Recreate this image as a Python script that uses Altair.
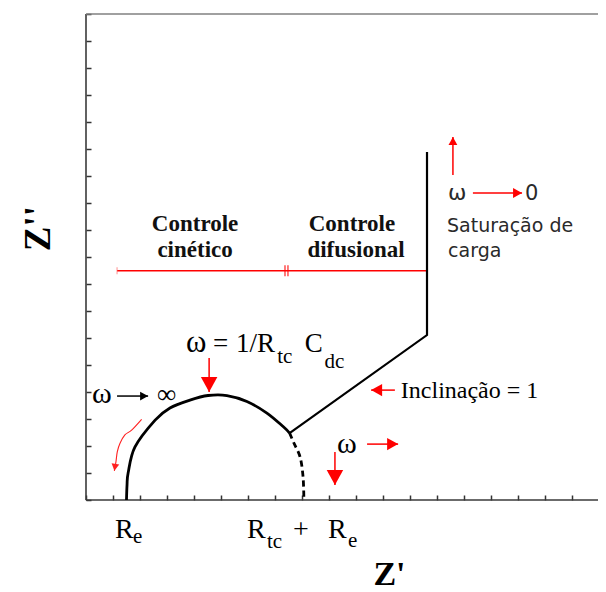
import math
import altair as alt
import pandas as pd

# ---------------- data (1 unit = one tick interval on either axis) ----------------
x_max = 18.963
y_max = 18.0
x_tick_values = list(range(0, 19))
y_tick_values = list(range(0, 19))

# kinetic-control semicircle (solid part)
arc_x = [1.50, 1.52, 1.56, 1.81, 2.56, 3.11, 3.85, 4.52, 5.22, 5.96, 6.70, 7.30, 7.54]
arc_y = [0.00, 0.56, 1.00, 1.96, 2.96, 3.41, 3.70, 3.87, 3.87, 3.65, 3.22, 2.72, 2.48]
# dashed continuation of the semicircle down to Rtc + Re
dash_x = [7.54, 7.70, 7.93, 8.04, 8.07]
dash_y = [2.48, 2.11, 1.59, 0.85, 0.00]
# diffusion (Warburg) branch: slope line then vertical capacitive line
warb_x = [7.54, 12.63, 12.63]
warb_y = [2.48, 6.11, 12.89]

# red region bar
bar_x = [1.15, 12.63]
bar_y = [8.49, 8.49]
bar_break_x = [7.37, 7.48]

# straight arrows (tail -> tip)
arrow_x1 = [4.56, 14.33, 13.59, 11.44, 10.41, 9.22, 1.15]
arrow_y1 = [5.26, 11.37, 12.04, 4.07, 2.07, 1.78, 3.85]
arrow_x2 = [4.56, 16.15, 13.59, 10.56, 11.56, 9.22, 2.30]
arrow_y2 = [4.00, 11.37, 13.44, 4.07, 2.07, 0.56, 3.85]
arrow_color = ["#ff0000"] * 6 + ["#000000"]
arrow_head_r = [15, 9, 8, 11, 11, 15, 8]

# curved red arrow beside the semicircle
curve_x = [2.06, 1.69, 1.44, 1.26, 1.16, 1.11, 1.05]
curve_y = [2.99, 2.59, 2.41, 2.10, 1.79, 1.42, 1.08]

# serif annotations (left aligned, baseline)
serif_text = ["ω", "=", "1/R", "tc", "C", "dc",
              "ω", "∞",
              "Inclinação = 1",
              "ω",
              "R", "e", "R", "tc", "+", "R", "e"]
serif_x = [3.70, 4.70, 5.56, 7.08, 8.10, 8.83,
           0.22, 2.63,
           11.66,
           9.30,
           1.07, 1.74, 5.96, 6.70, 7.67, 8.96, 9.70]
serif_y = [5.48, 5.48, 5.48, 5.07, 5.48, 4.89,
           3.59, 3.59,
           3.78,
           1.74,
           -1.41, -1.59, -1.41, -1.78, -1.41, -1.41, -1.74]
serif_size = [31, 27, 27, 21, 27, 21,
              30, 27,
              24,
              30,
              28, 21, 28, 21, 28, 28, 21]

# bold region labels (centered)
bold_text = ["Controle", "cinético", "Controle", "difusional"]
bold_x = [4.04, 4.04, 9.85, 10.00]
bold_y = [9.96, 9.00, 9.96, 9.00]

# sans annotations (left aligned)
sans_text = ["ω", "0", "Saturação de", "carga"]
sans_x = [13.41, 16.26, 13.37, 13.41]
sans_y = [11.11, 11.11, 9.94, 9.01]
sans_size = [22, 21, 19, 19]

# ---------------- tables ----------------
arc_df = pd.DataFrame({"x": arc_x, "y": arc_y, "o": range(len(arc_x))})
dash_df = pd.DataFrame({"x": dash_x, "y": dash_y, "o": range(len(dash_x))})
warb_df = pd.DataFrame({"x": warb_x, "y": warb_y, "o": range(len(warb_x))})
frame_df = pd.DataFrame({
    "x": [0, 0, 0], "x2": [0, x_max, x_max],
    "y": [0, 0, y_max], "y2": [y_max, 0, y_max],
    "c": ["#3a3a3a", "#3a3a3a", "#808080"],
})
bar_df = pd.DataFrame({"x": [bar_x[0]], "x2": [bar_x[1]], "y": [bar_y[0]]})
bar_end_df = pd.DataFrame({"x": bar_x, "y": bar_y})
bar_brk_df = pd.DataFrame({"x": bar_break_x, "y": [bar_y[0]] * 2})


def head_angle(x1, y1, x2, y2):
    dx = x2 - x1
    dys = -(y2 - y1)
    return (-math.degrees(math.atan2(dx, dys))) % 360


arrow_df = pd.DataFrame({
    "x": arrow_x1, "y": arrow_y1, "x2": arrow_x2, "y2": arrow_y2,
    "c": arrow_color,
    "s": [4 * r * r for r in arrow_head_r],
    "a": [head_angle(a, b, c, d) for a, b, c, d in zip(arrow_x1, arrow_y1, arrow_x2, arrow_y2)],
})
curve_df = pd.DataFrame({"x": curve_x, "y": curve_y, "o": range(len(curve_x))})
curve_head_df = pd.DataFrame({
    "x": [curve_x[-1]], "y": [curve_y[-1]], "s": [4 * 7 * 7],
    "a": [head_angle(curve_x[-3], curve_y[-3], curve_x[-1], curve_y[-1])],
})
serif_df = pd.DataFrame({"t": serif_text, "x": serif_x, "y": serif_y, "s": serif_size})
bold_df = pd.DataFrame({"t": bold_text, "x": bold_x, "y": bold_y})
sans_df = pd.DataFrame({"t": sans_text, "x": sans_x, "y": sans_y, "s": sans_size})

# ---------------- scales / axes ----------------
xs = alt.Scale(domain=[0, x_max], nice=False, zero=False)
ys = alt.Scale(domain=[0, y_max], nice=False, zero=False)
x_axis = alt.Axis(values=x_tick_values, labels=False, domain=False, grid=False,
                  ticks=True, tickSize=5, offset=-5, tickColor="#333333", tickWidth=1.5,
                  title="Z'", titleFont="Liberation Serif", titleFontSize=34,
                  titleFontWeight="bold", titleColor="#000000",
                  titleX=303, titleY=89, titleAlign="center", titleBaseline="alphabetic")
y_axis = alt.Axis(values=y_tick_values, labels=False, domain=False, grid=False,
                  ticks=True, tickSize=5, offset=-5, tickColor="#333333", tickWidth=1.5,
                  title="Z''", titleFont="Liberation Serif", titleFontSize=37,
                  titleFontWeight="bold", titleColor="#000000", titleAngle=270,
                  titleX=-42, titleY=214, titleAlign="center", titleBaseline="alphabetic")


def X(f):
    return alt.X(f"{f}:Q", scale=xs, axis=x_axis)


def Y(f):
    return alt.Y(f"{f}:Q", scale=ys, axis=y_axis)


ARROW_SHAPE = "M0,0L-0.55,-1L0.55,-1Z"

frame = alt.Chart(frame_df).mark_rule(strokeWidth=1.6).encode(
    x=X("x"), x2="x2:Q", y=Y("y"), y2="y2:Q", color=alt.Color("c:N", scale=None))

arc = alt.Chart(arc_df).mark_line(color="black", strokeWidth=2.8, interpolate="cardinal").encode(
    x=X("x"), y=Y("y"), order="o:Q")
dash = alt.Chart(dash_df).mark_line(color="black", strokeWidth=2.8, strokeDash=[6, 4],
                                    interpolate="cardinal").encode(
    x=X("x"), y=Y("y"), order="o:Q")
warb = alt.Chart(warb_df).mark_line(color="black", strokeWidth=2.2).encode(
    x=X("x"), y=Y("y"), order="o:Q")

bar = alt.Chart(bar_df).mark_rule(color="#ff0000", strokeWidth=1.5).encode(
    x=X("x"), x2="x2:Q", y=Y("y"))
bar_end = alt.Chart(bar_end_df).mark_tick(color="#ff6060", orient="vertical", size=7,
                                          thickness=1).encode(x=X("x"), y=Y("y"))
bar_brk = alt.Chart(bar_brk_df).mark_tick(color="#ff0000", orient="vertical", size=11,
                                          thickness=1.5).encode(x=X("x"), y=Y("y"))

arrow_line = alt.Chart(arrow_df).mark_rule(strokeWidth=1.5).encode(
    x=X("x"), x2="x2:Q", y=Y("y"), y2="y2:Q", color=alt.Color("c:N", scale=None))
arrow_head = alt.Chart(arrow_df).mark_point(shape=ARROW_SHAPE, filled=True, opacity=1,
                                            strokeWidth=0).encode(
    x=X("x2"), y=Y("y2"), color=alt.Color("c:N", scale=None),
    size=alt.Size("s:Q", scale=None), angle=alt.Angle("a:Q", scale=None))

curve = alt.Chart(curve_df).mark_line(color="#ff2020", strokeWidth=1.1,
                                      interpolate="cardinal").encode(
    x=X("x"), y=Y("y"), order="o:Q")
curve_head = alt.Chart(curve_head_df).mark_point(shape=ARROW_SHAPE, filled=True, opacity=1,
                                                 strokeWidth=0, color="#ff2020").encode(
    x=X("x"), y=Y("y"), size=alt.Size("s:Q", scale=None), angle=alt.Angle("a:Q", scale=None))

serif = alt.Chart(serif_df).mark_text(align="left", baseline="alphabetic",
                                      font="Liberation Serif", color="#000000").encode(
    x=X("x"), y=Y("y"), text="t:N", size=alt.Size("s:Q", scale=None))
bold = alt.Chart(bold_df).mark_text(align="center", baseline="alphabetic",
                                    font="Liberation Serif", fontWeight="bold",
                                    fontSize=23, color="#111111").encode(
    x=X("x"), y=Y("y"), text="t:N")
sans = alt.Chart(sans_df).mark_text(align="left", baseline="alphabetic",
                                    font="DejaVu Sans", color="#2a2a2a").encode(
    x=X("x"), y=Y("y"), text="t:N", size=alt.Size("s:Q", scale=None))

chart = alt.layer(
    frame, bar, bar_end, bar_brk, arc, dash, warb, curve, curve_head,
    arrow_line, arrow_head, serif, bold, sans,
).properties(
    width=512, height=486,
    autosize=alt.AutoSizeParams(type="none"),
    padding={"left": 78, "top": 6, "right": 0, "bottom": 92},
).configure_view(stroke=None)

chart.save("out.html", embed_options={"renderer": "svg", "actions": False})
